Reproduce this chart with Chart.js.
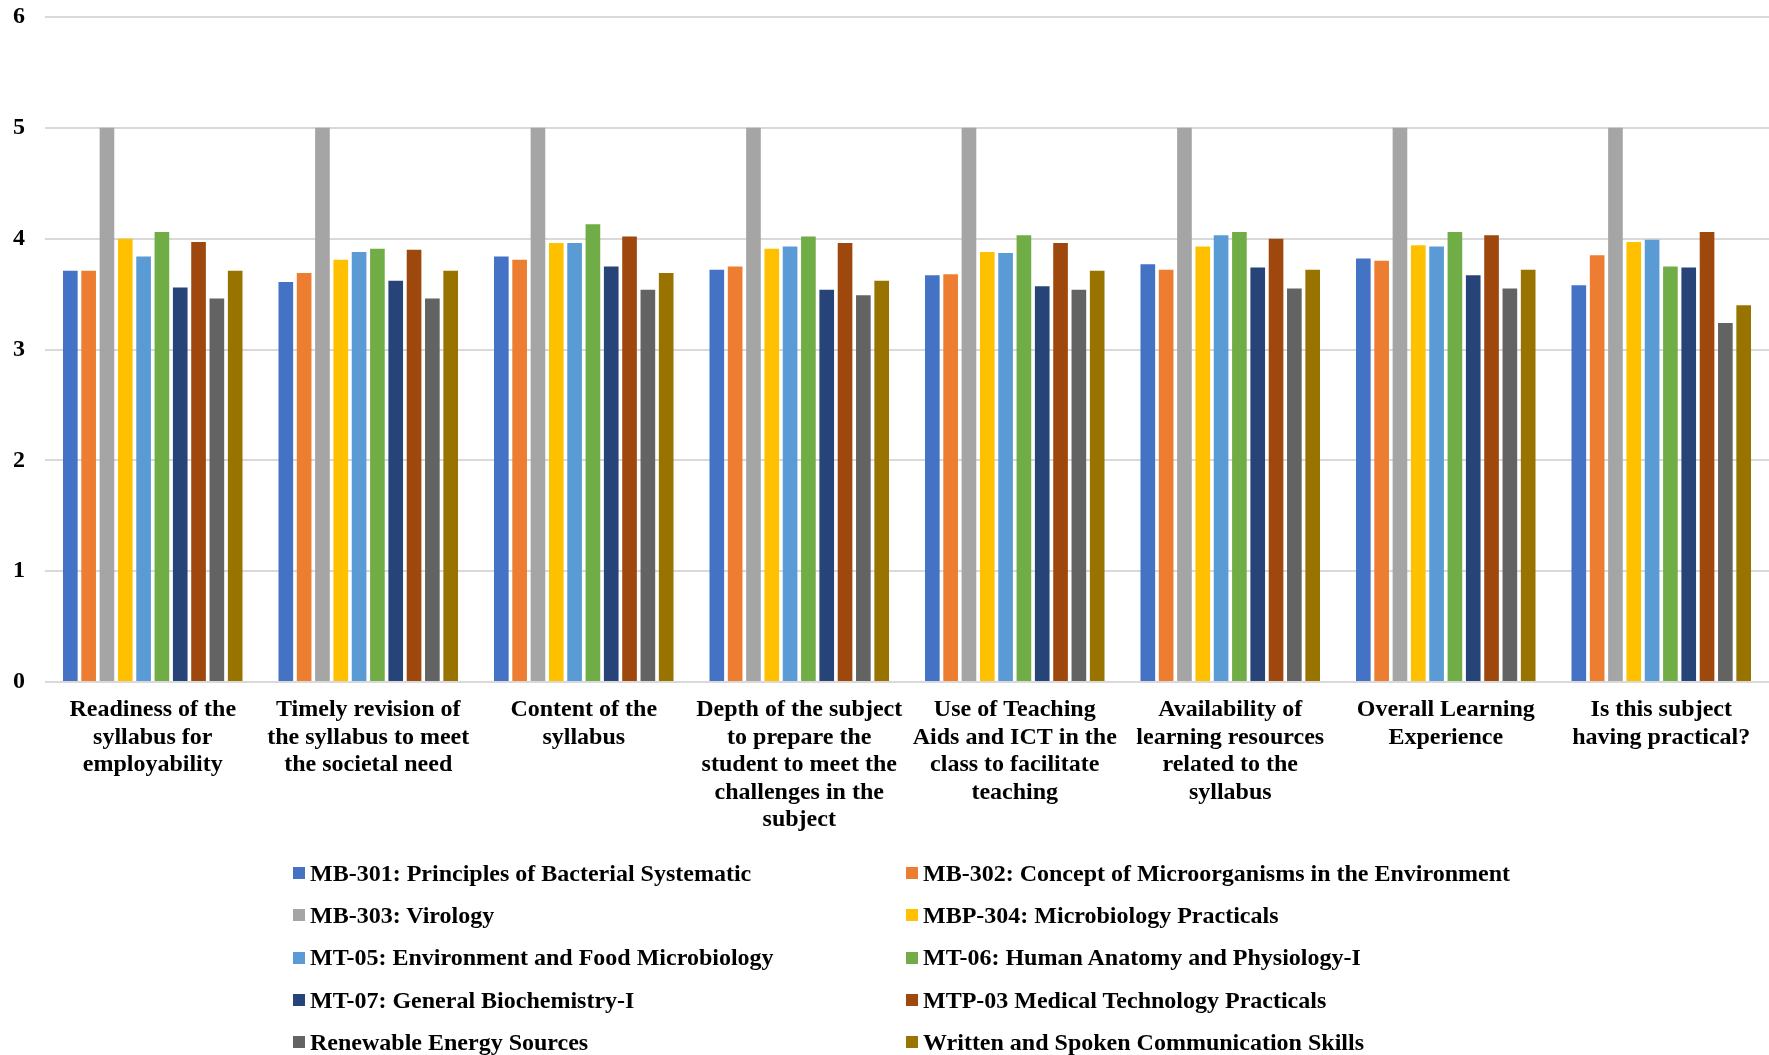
<!DOCTYPE html>
<html>
<head>
<meta charset="utf-8">
<script src="https://cdn.jsdelivr.net/npm/chart.js@4"></script>
<style>
  html, body { margin: 0; padding: 0; background: #fff; }
  #wrap { position: relative; width: 1769px; height: 1055px; }
  #legend {
    position: absolute; left: 293px; top: 852px;
    display: grid; grid-template-columns: 613px auto; row-gap: 0;
    font: bold 24px "Liberation Serif", "Times New Roman", serif; color: #000;
  }
  .item { display: flex; align-items: center; height: 42.3px; white-space: nowrap; }
  .box { width: 12px; height: 12px; margin-right: 5px; }
</style>
</head>
<body>
<div id="wrap">
  <canvas id="surveyChart" width="1769" height="1055"></canvas>
  <div id="legend"></div>
</div>
<script>
const categories = [
  ["Readiness of the", "syllabus for", "employability"],
  ["Timely revision of", "the syllabus to meet", "the societal need"],
  ["Content of the", "syllabus"],
  ["Depth of the subject", "to prepare the", "student to meet the", "challenges in the", "subject"],
  ["Use of Teaching", "Aids and ICT in the", "class to facilitate", "teaching"],
  ["Availability of", "learning resources", "related to the", "syllabus"],
  ["Overall Learning", "Experience"],
  ["Is this subject", "having practical?"]
];

const seriesNames = [
  "MB-301: Principles of Bacterial Systematic",
  "MB-302: Concept of Microorganisms in the Environment",
  "MB-303: Virology",
  "MBP-304: Microbiology Practicals",
  "MT-05: Environment and Food Microbiology",
  "MT-06: Human Anatomy and Physiology-I",
  "MT-07: General Biochemistry-I",
  "MTP-03 Medical Technology Practicals",
  "Renewable Energy Sources",
  "Written and Spoken Communication Skills"
];

const mb301 = [3.71, 3.61, 3.84, 3.72, 3.67, 3.77, 3.82, 3.58];
const mb302 = [3.71, 3.69, 3.81, 3.75, 3.68, 3.72, 3.80, 3.85];
const mb303 = [5, 5, 5, 5, 5, 5, 5, 5];
const mbp304 = [4.00, 3.81, 3.96, 3.91, 3.88, 3.93, 3.94, 3.97];
const mt05 = [3.84, 3.88, 3.96, 3.93, 3.87, 4.03, 3.93, 3.99];
const mt06 = [4.06, 3.91, 4.13, 4.02, 4.03, 4.06, 4.06, 3.75];
const mt07 = [3.56, 3.62, 3.75, 3.54, 3.57, 3.74, 3.67, 3.74];
const mtp03 = [3.97, 3.90, 4.02, 3.96, 3.96, 4.00, 4.03, 4.06];
const renewable = [3.46, 3.46, 3.54, 3.49, 3.54, 3.55, 3.55, 3.24];
const communication = [3.71, 3.71, 3.69, 3.62, 3.71, 3.72, 3.72, 3.40];

const yTicks = [0, 1, 2, 3, 4, 5, 6];

const seriesValues = [mb301, mb302, mb303, mbp304, mt05, mt06, mt07, mtp03, renewable, communication];
const colors = ["#4472C4", "#ED7D31", "#A5A5A5", "#FFC000", "#5B9BD5", "#70AD47", "#264478", "#9E480E", "#636363", "#997300"];

const labelFont = { family: "'Liberation Serif', 'Times New Roman', serif", size: 24, weight: "bold", lineHeight: 1.15 };

const ctx = document.getElementById("surveyChart").getContext("2d");
const surveyChart = new Chart(ctx, {
  type: "bar",
  data: {
    labels: categories,
    datasets: seriesValues.map((vals, i) => ({
      label: seriesNames[i],
      data: vals,
      backgroundColor: colors[i],
      borderWidth: 0,
      categoryPercentage: 0.85,
      barPercentage: 0.8
    }))
  },
  options: {
    responsive: false,
    animation: false,
    layout: { padding: { top: 17, right: 0, bottom: 0, left: 0 } },
    plugins: {
      legend: { display: false },
      tooltip: { enabled: false }
    },
    scales: {
      x: {
        grid: { display: false, drawTicks: false },
        border: { display: false },
        ticks: {
          color: "#000",
          font: labelFont,
          maxRotation: 0,
          autoSkip: false,
          padding: 14
        },
        afterFit: (scale) => {
          scale.height = 373;
          scale.paddingLeft = 0;
          scale.paddingRight = 0;
        }
      },
      y: {
        min: 0,
        max: 6,
        afterBuildTicks: (scale) => { scale.ticks = yTicks.map(v => ({ value: v })); },
        grid: { color: "#d9d9d9", lineWidth: 2, drawTicks: false },
        border: { display: false },
        ticks: {
          color: "#000",
          font: labelFont,
          padding: 20
        },
        afterFit: (scale) => {
          scale.width = 45;
          scale.paddingTop = 0;
          scale.paddingBottom = 0;
        }
      }
    }
  }
});

function renderLegend() {
  const legend = document.getElementById("legend");
  legend.innerHTML = "";
  surveyChart.data.datasets.forEach((ds) => {
    const item = document.createElement("div");
    item.className = "item";
    item.innerHTML = `<span class="box" style="background:${ds.backgroundColor}"></span><span>${ds.label}</span>`;
    legend.appendChild(item);
  });
}

renderLegend();
</script>
</body>
</html>
